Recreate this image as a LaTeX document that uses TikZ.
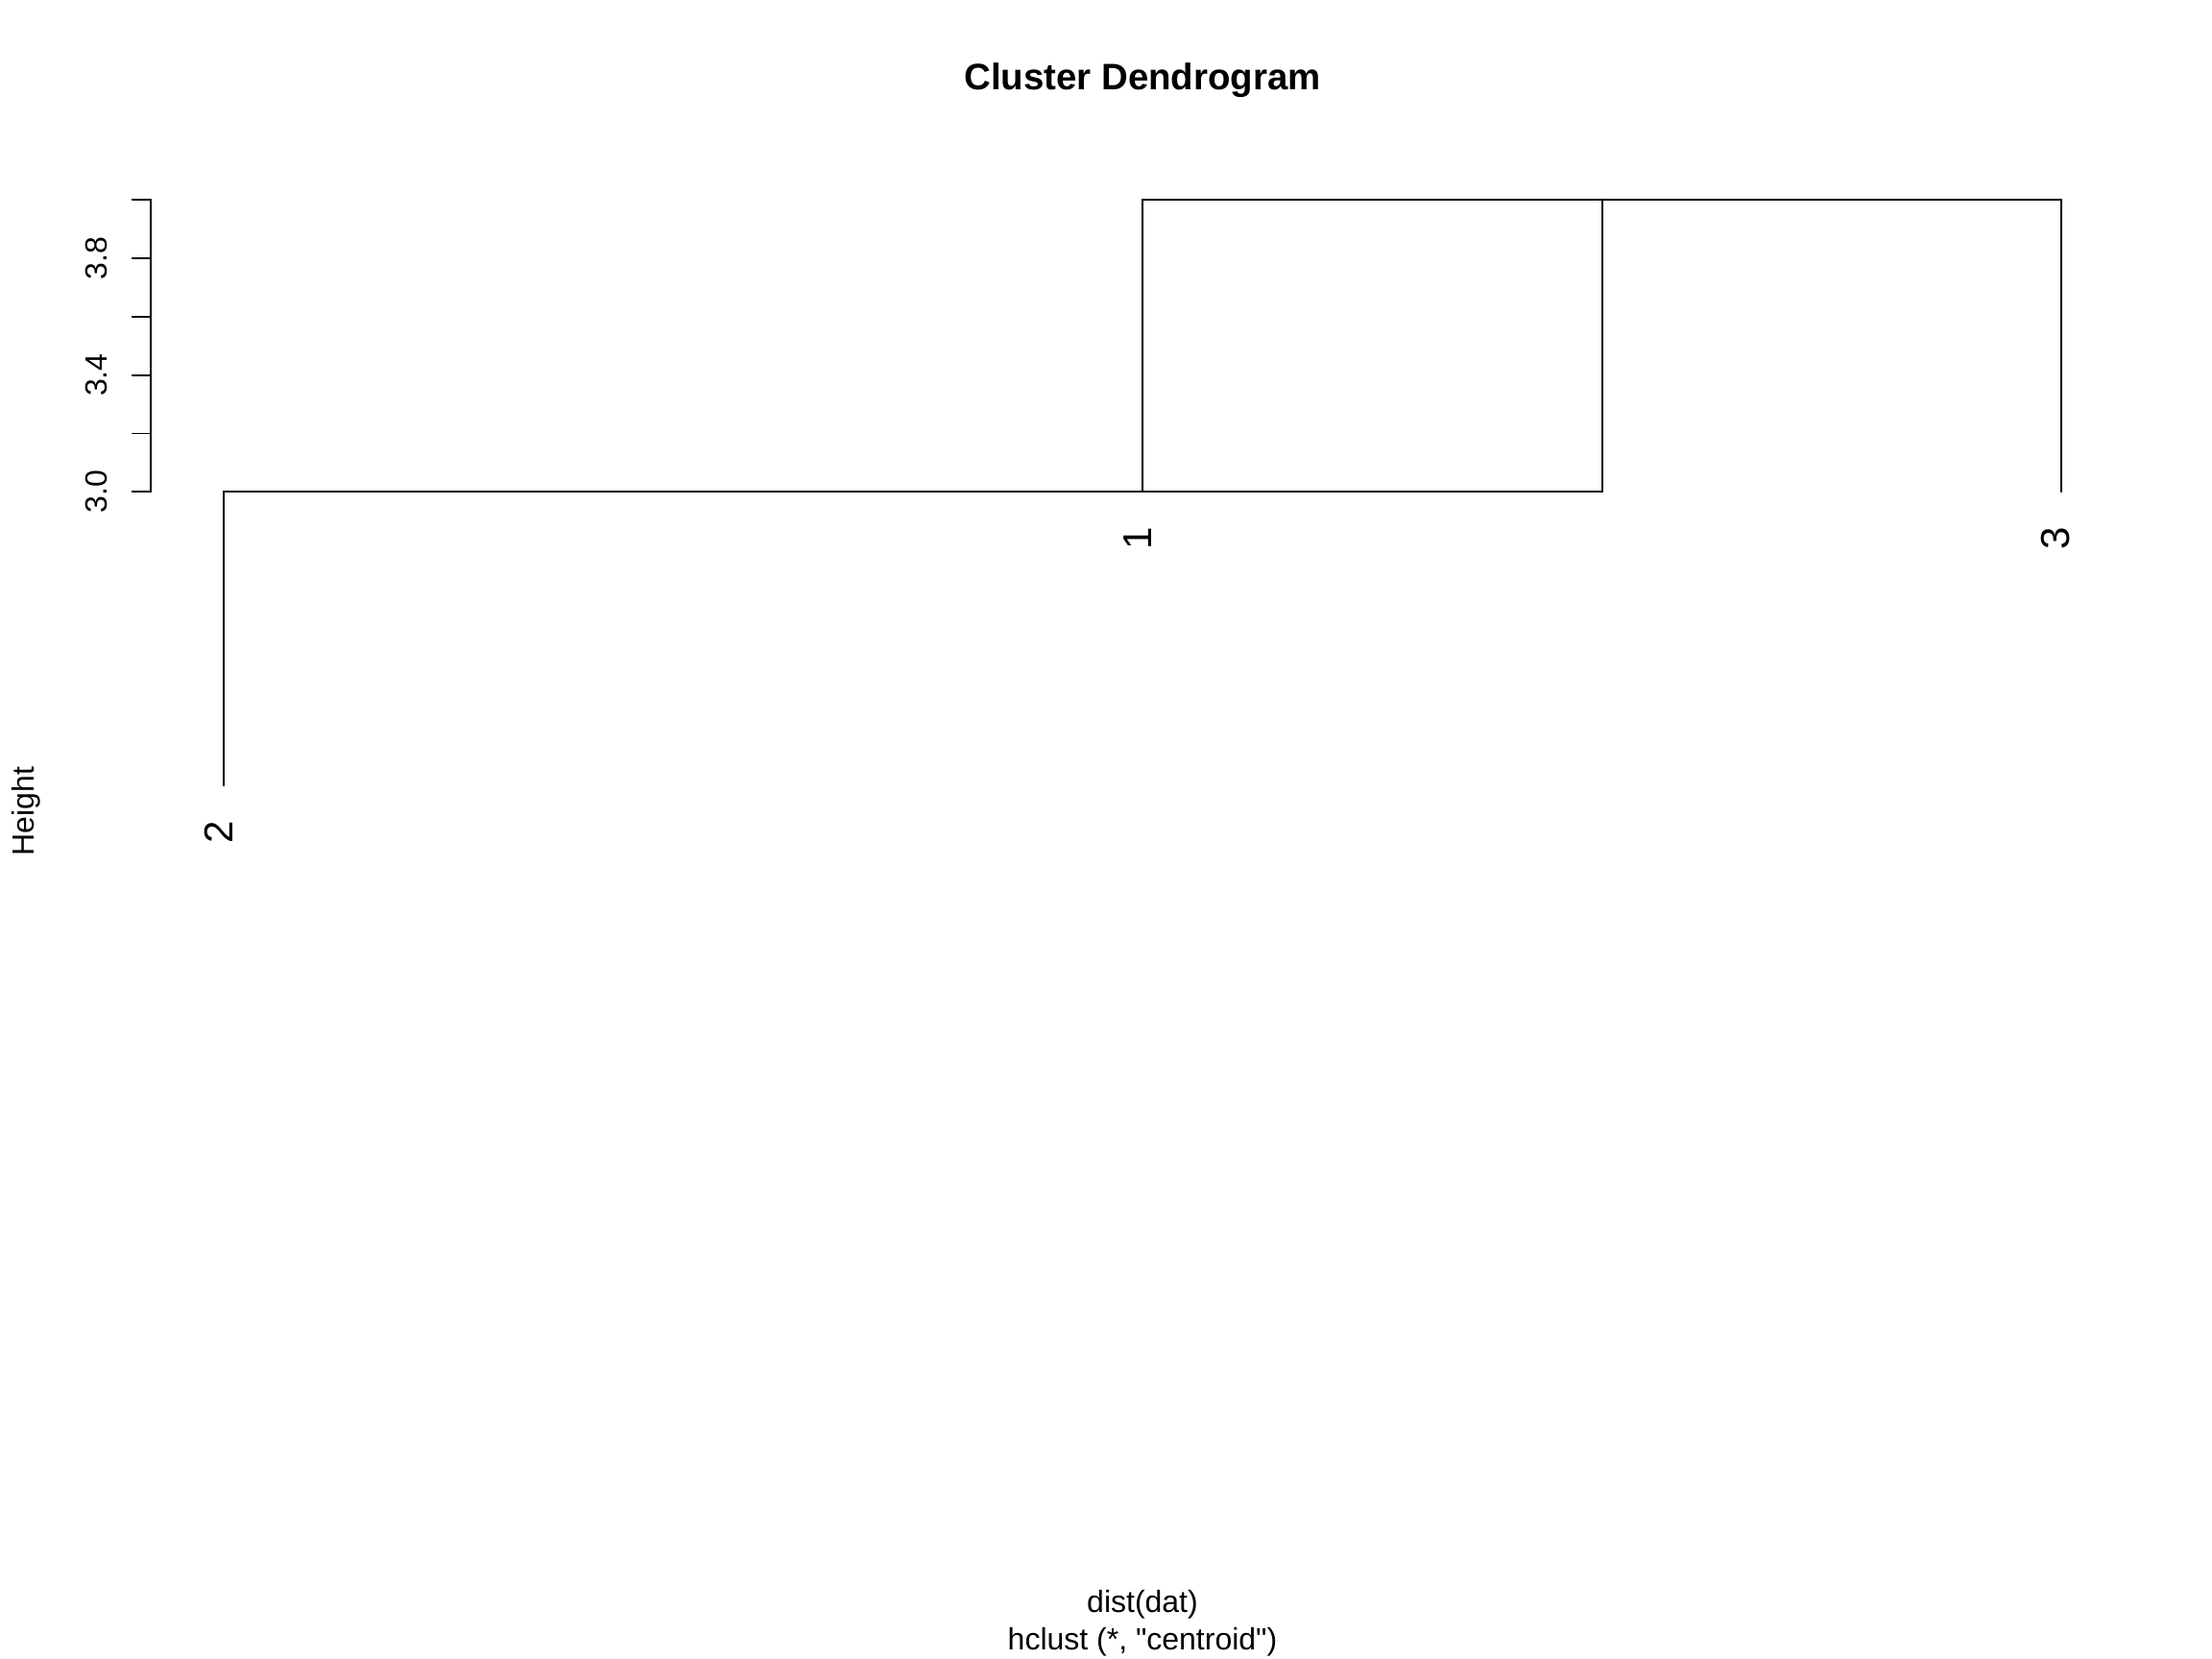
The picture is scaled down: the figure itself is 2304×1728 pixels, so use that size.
\documentclass[tikz,border=0pt]{standalone}
\usepackage{fontspec}
\setmainfont{Liberation Sans}[Ligatures=TeXOff]
\usetikzlibrary{calc}
\begin{document}
\begin{tikzpicture}[x=0.5pt,y=-0.5pt,
  dend/.style={draw=black,line width=0.85pt,line cap=round,line join=miter},
  axisline/.style={draw=black,line width=0.85pt,line cap=round},
  ticklab/.style={rotate=90,anchor=base,inner sep=0pt,font=\fontsize{16pt}{19pt}\selectfont},
  leaflab/.style={rotate=90,anchor=base east,inner sep=0pt,font=\fontsize{21pt}{25pt}\selectfont},
  plain/.style={inner sep=0pt,anchor=base,font=\fontsize{16pt}{19pt}\selectfont}]
\useasboundingbox[fill=white] (0,0) rectangle (2304,1728);

% title
\node[inner sep=0pt,anchor=base,font=\fontsize{19.2pt}{23pt}\selectfont\bfseries] (title) at (1190,94) {Cluster Dendrogram};

% y axis
\coordinate (ax0) at (157.3,512.3);
\coordinate (ax1) at (157.3,208.3);
\draw[axisline] (ax0) -- (ax1);
\foreach \yy in {208.3,269.1,329.9,390.7,451.5,512.3}{
  \draw[axisline] (137.7,\yy) -- (157.3,\yy);
}
\node[ticklab] (t30) at (111.7,512.3) {3.0};
\node[ticklab] (t34) at (111.7,390.7) {3.4};
\node[ticklab] (t38) at (111.7,269.1) {3.8};

% axis title
\node[ticklab] (ylab) at (35,845) {Height};

% dendrogram
\coordinate (L2) at (233.3,818.3);
\coordinate (L1) at (1190.3,512.3);
\coordinate (L3) at (2146.7,512.3);
\coordinate (A) at (233.3,512.3);
\coordinate (B) at (1668.7,512.3);
\coordinate (C) at (1668.7,208.3);
\coordinate (D) at (1190.3,208.3);
\coordinate (E) at (2146.7,208.3);
\draw[dend] (L2) -- (A) -- (B) -- (C);
\draw[dend] (L1) -- (D) -- (E) -- (L3);

% leaf labels
\node[leaflab] (n2) at ($(L2)+(9,36)$) {2};
\node[leaflab] (n1) at ($(L1)+(9,36)$) {1};
\node[leaflab] (n3) at ($(L3)+(9,36)$) {3};

% bottom texts
\node[plain] (xlab) at (1190,1679) {dist(dat)};
\node[plain] (sub) at (1190,1718) {hclust (*, "centroid")};
\end{tikzpicture}
\end{document}
